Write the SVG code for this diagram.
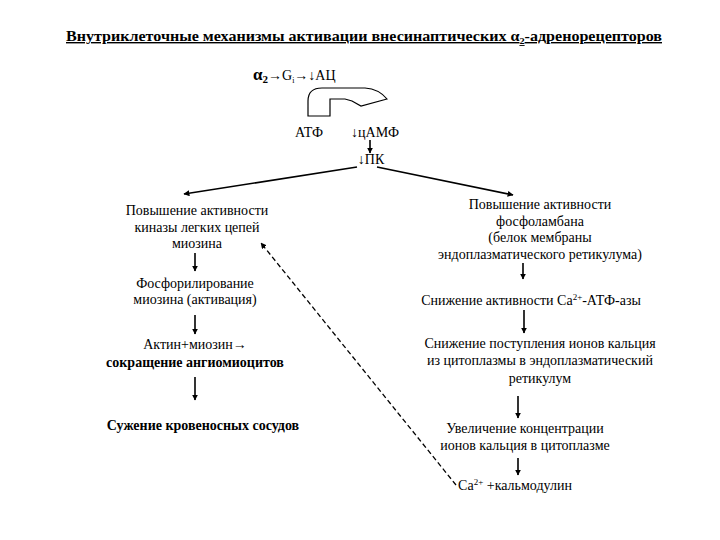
<svg xmlns="http://www.w3.org/2000/svg" width="720" height="540" viewBox="0 0 720 540">
<style>
text{font-family:"Liberation Serif","DejaVu Serif","Times New Roman",serif;font-size:14px;fill:#000;text-anchor:middle}
.b{font-weight:bold}
.l{text-anchor:start}
.c{stroke:#000;stroke-width:1.6;fill:none}
.d{stroke:#000;stroke-width:1.3;fill:none;stroke-dasharray:5,3}
</style>
<defs>
<marker id="ah" viewBox="0 0 10 10" refX="9" refY="5" markerWidth="6" markerHeight="6" orient="auto" markerUnits="userSpaceOnUse">
<path d="M0,0 L10,5 L0,10 Z" fill="#000"/>
</marker>
</defs>
<rect width="720" height="540" fill="#fff"/>
<g id="title">
<text x="364" y="41" class="b" text-decoration="underline" textLength="596" lengthAdjust="spacingAndGlyphs" font-family="Liberation Serif, serif">Внутриклеточные механизмы активации внесинаптических α<tspan font-size="9" dy="3">2</tspan><tspan dy="-3">-адренорецепторов</tspan></text>
</g>
<g id="receptor">
<text x="253" y="80" class="l" font-family="Liberation Serif, serif"><tspan class="b" font-size="17">α</tspan><tspan class="b" font-size="11" dy="3">2</tspan><tspan dy="-3">→G</tspan><tspan font-size="8" dy="3">i</tspan><tspan dy="-3">→↓АЦ</tspan></text>
</g>
<g id="curved-arrow">
<path d="M308,116 L308,101 Q308,88 322,88 L365,88 Q379,89 387,99 L361,106 L352,101 L345,99 L330,99 L330,116 Z" fill="none" stroke="#000" stroke-width="1.2"/>
</g>
<g id="atf"><text x="309" y="137" font-family="Liberation Serif, serif">АТФ</text></g>
<g id="camp"><text x="375" y="137" font-family="Liberation Serif, serif">↓цАМФ</text></g>
<g id="pk"><text x="371" y="164" font-family="Liberation Serif, serif">↓ПК</text></g>
<g id="l1" font-family="Liberation Serif, serif"><text x="197" y="215">Повышение активности</text><text x="197" y="232">киназы легких цепей</text><text x="197" y="248">миозина</text></g>
<g id="l2"><text x="195" y="288">Фосфорилирование</text><text x="195" y="304">миозина (активация)</text></g>
<g id="l3"><text x="195" y="349">Актин+миозин→</text><text x="195" y="367" class="b">сокращение ангиомиоцитов</text></g>
<g id="l4"><text x="203" y="430" class="b">Сужение кровеносных сосудов</text></g>
<g id="r1"><text x="540" y="209">Повышение активности</text><text x="540" y="226">фосфоламбана</text><text x="540" y="242">(белок мембраны</text><text x="540" y="259">эндоплазматического ретикулума)</text></g>
<g id="r2"><text x="531" y="305">Снижение активности Ca<tspan font-size="9" dy="-5">2+</tspan><tspan dy="5">-АТФ-азы</tspan></text></g>
<g id="r3"><text x="540" y="348">Снижение поступления ионов кальция</text><text x="540" y="365">из цитоплазмы в эндоплазматический</text><text x="540" y="383">ретикулум</text></g>
<g id="r4"><text x="525" y="433">Увеличение концентрации</text><text x="525" y="450">ионов кальция в цитоплазме</text></g>
<g id="r5"><text x="515" y="490">Ca<tspan font-size="9" dy="-5">2+</tspan><tspan dy="5"> +кальмодулин</tspan></text></g>
<g id="connectors">
<line class="c" x1="370" y1="140" x2="370" y2="153" marker-end="url(#ah)"/>
<line class="c" x1="357" y1="167" x2="184" y2="194" marker-end="url(#ah)"/>
<line class="c" x1="377" y1="167" x2="513" y2="195" marker-end="url(#ah)"/>
<line class="c" x1="195" y1="253" x2="195" y2="271" marker-end="url(#ah)"/>
<line class="c" x1="195" y1="315" x2="195" y2="334" marker-end="url(#ah)"/>
<line class="c" x1="195" y1="377" x2="195" y2="400" marker-end="url(#ah)"/>
<line class="c" x1="523" y1="263" x2="523" y2="279" marker-end="url(#ah)"/>
<line class="c" x1="524" y1="310" x2="524" y2="333" marker-end="url(#ah)"/>
<line class="c" x1="518" y1="396" x2="518" y2="418" marker-end="url(#ah)"/>
<line class="c" x1="518" y1="458" x2="518" y2="475" marker-end="url(#ah)"/>
<line class="d" x1="456" y1="485" x2="261" y2="243" marker-end="url(#ah)"/>
</g>
</svg>
